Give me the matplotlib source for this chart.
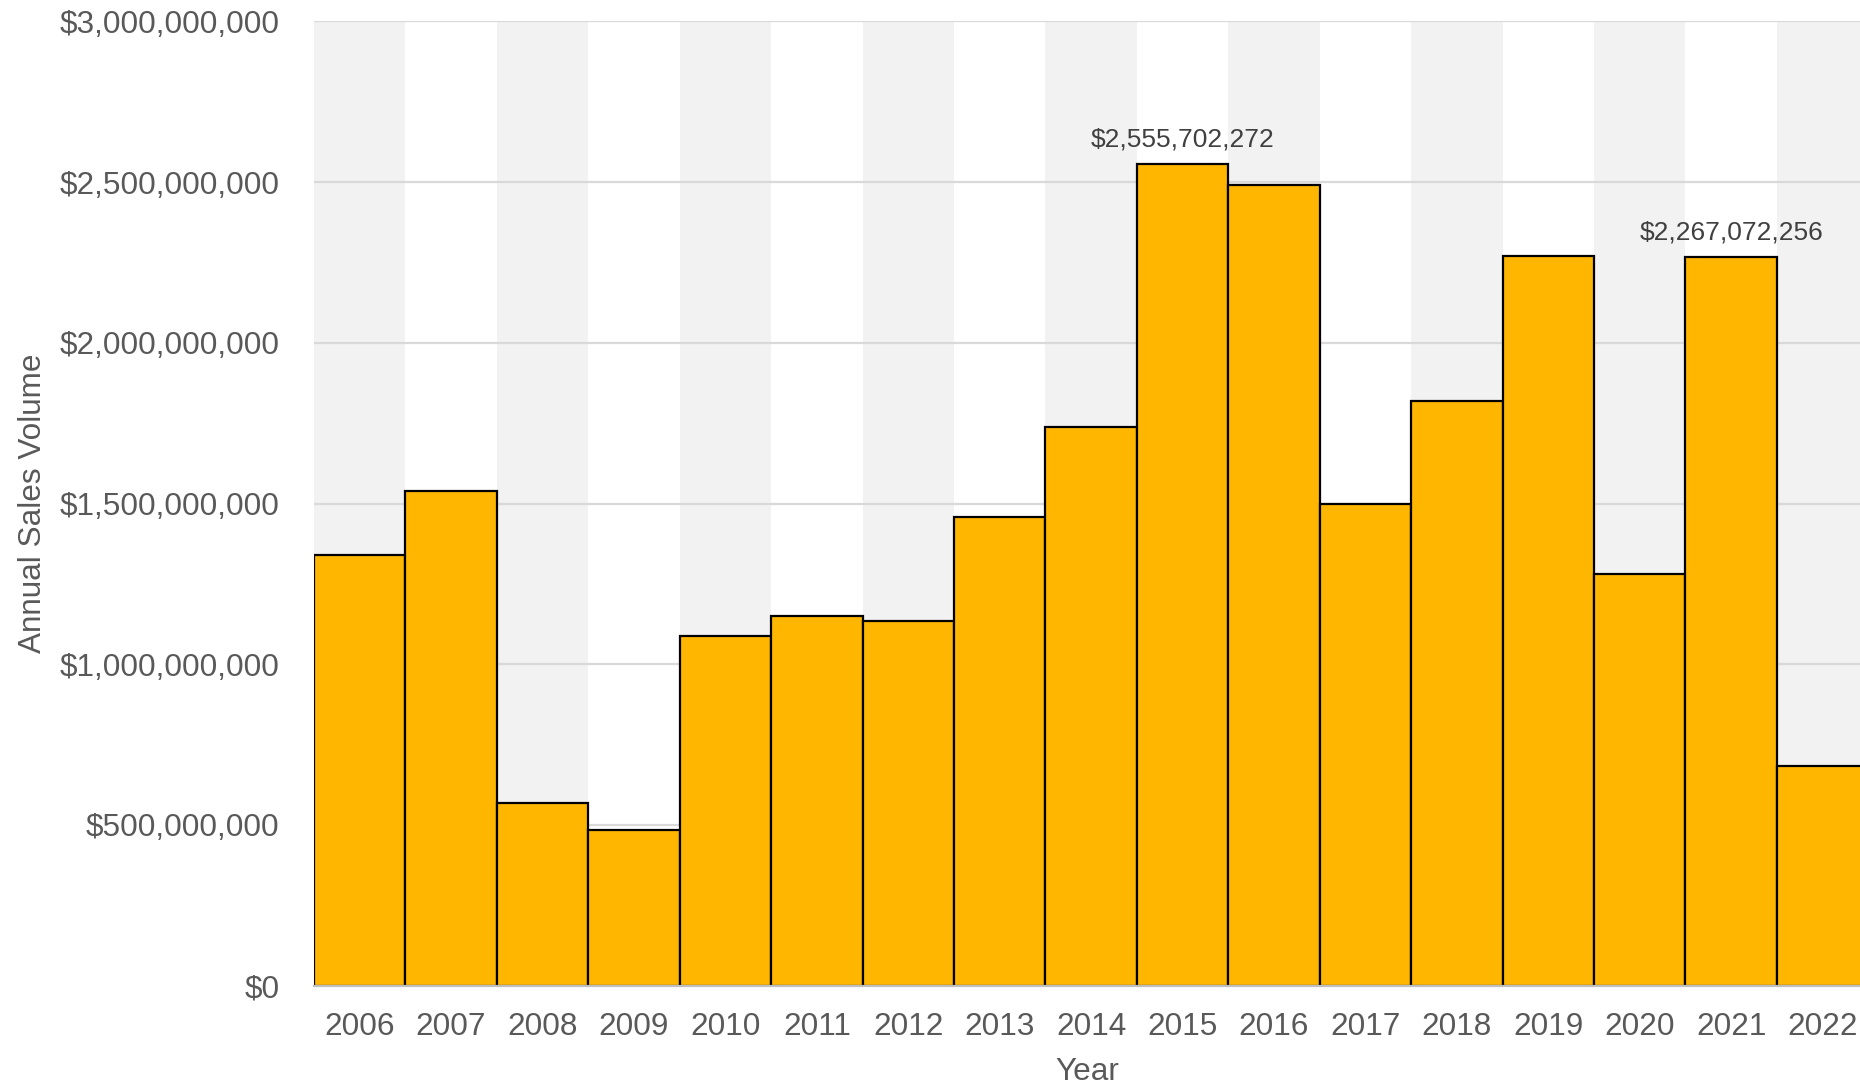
import matplotlib
matplotlib.use("Agg")
import matplotlib.pyplot as plt
from matplotlib.ticker import FuncFormatter

plt.rcParams["font.family"] = ["Liberation Sans", "DejaVu Sans"]

years = ["2006", "2007", "2008", "2009", "2010", "2011", "2012", "2013", "2014",
         "2015", "2016", "2017", "2018", "2019", "2020", "2021", "2022"]
sales = [1339000000, 1539000000, 568000000, 483000000, 1089000000, 1151000000,
         1133000000, 1458000000, 1738000000, 2555702272, 2491000000, 1498000000,
         1819000000, 2270000000, 1280000000, 2267072256, 683000000]
labelled_years = ["2015", "2021"]
y_ticks = [0, 500000000, 1000000000, 1500000000, 2000000000, 2500000000, 3000000000]

BAR = "#FFB600"
TEXT = "#595959"
GRID = "#D9D9D9"
BAND = "#F2F2F2"

fig = plt.figure(figsize=(18.6, 10.84), dpi=100)
ax = fig.add_axes([0.1688, 0.0907, 1 - 0.1688, 0.9803 - 0.0907])

x = list(range(len(years)))

# alternating background bands
for i in x:
    if i % 2 == 0:
        ax.axvspan(i - 0.5, i + 0.5, ymin=0, ymax=1, color=BAND, lw=0, zorder=0)

ax.set_ylim(0, 3000000000)
ax.set_xlim(-0.5, 16.41)
ax.set_yticks(y_ticks)
ax.yaxis.set_major_formatter(FuncFormatter(lambda v, p: f"${v:,.0f}"))
ax.grid(axis="y", color=GRID, lw=1.6, zorder=1)
ax.set_axisbelow(True)

ax.bar(x, sales, width=1.0, color=BAR, edgecolor="black", linewidth=1.6, zorder=3)

for i, (yr, v) in enumerate(zip(years, sales)):
    if yr in labelled_years:
        ax.annotate(f"${v:,.0f}", (i, v), xytext=(0, 9), textcoords="offset points",
                    ha="center", va="bottom", fontsize=19, color="#404040")

ax.set_xticks(x)
ax.set_xticklabels(years)
ax.tick_params(axis="both", length=0, labelsize=22.7, labelcolor=TEXT)
ax.tick_params(axis="y", pad=25)
ax.tick_params(axis="x", pad=19)

for s in ["top", "right", "left"]:
    ax.spines[s].set_visible(False)
ax.spines["bottom"].set_color("#BFBFBF")
ax.spines["bottom"].set_linewidth(1.6)
ax.spines["bottom"].set_zorder(4)

ax.set_xlabel("Year", fontsize=22.7, color=TEXT, labelpad=11)
ax.set_ylabel("Annual Sales Volume", fontsize=22.7, color=TEXT, labelpad=8)

fig.savefig("out.png", dpi=100)
